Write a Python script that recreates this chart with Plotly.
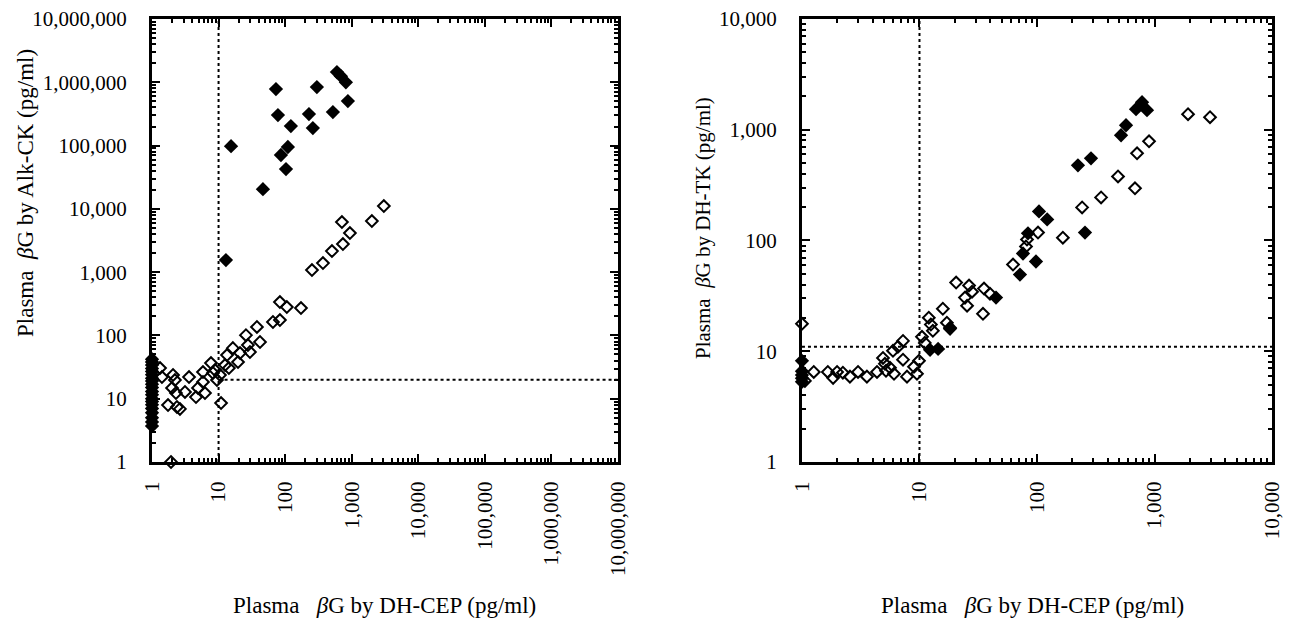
import plotly.graph_objects as go

# ---------------- Left panel: Alk-CK vs DH-CEP ----------------
left_filled_x = [72.8, 300, 600, 689, 818, 877, 78, 228, 522, 122, 261, 15.4, 110, 86.5, 103, 46.4, 12.9,
                 1, 1, 1, 1, 1, 1, 1, 1, 1, 1, 1, 1, 1, 1, 1, 1, 1, 1, 1, 1]
left_filled_y = [781000, 840000, 1450000, 1250000, 1000000, 505000, 303000, 315000, 338000, 203000, 189000,
                 98000, 95000, 71000, 42500, 20500, 1550,
                 42, 38, 34, 30, 27, 24, 21, 19, 17, 15, 13, 11.5, 10, 9, 8, 7, 6, 5, 4.3, 3.7]

left_open_x = [1.32, 1.41, 1.74, 2.07, 2.21, 2.0, 2.29, 2.63, 2.37, 3.13, 3.6, 4.58, 4.91, 5.83, 5.83, 6.25,
               7.69, 8.24, 8.83, 9.46, 10.5, 10.9, 12.5, 13.4, 14.3, 16.4, 19.6, 21, 25.8, 27.6, 29.6, 37.7,
               41.9, 65.6, 83.5, 83.5, 106, 173, 253, 370, 505, 738, 713, 940, 2010, 3040, 1.93]
left_open_y = [30.5, 22, 7.95, 23.7, 19.7, 14.8, 12.3, 6.9, 7.4, 12.8, 22, 10.6, 14.8, 26.4, 18.4, 12.3,
               36.6, 25.5, 28.4, 19.7, 23.7, 8.55, 34, 49, 30.5, 63, 38, 52.7, 101, 70.5, 54.7, 136,
               78.7, 163, 175, 337, 281, 271, 1080, 1390, 2150, 2780, 6190, 4150, 6420, 11070, 1]

left_cut_x = 10
left_cut_y = 20

# ---------------- Right panel: DH-TK vs DH-CEP ----------------
right_filled_x = [783, 696, 863, 572, 519, 288, 223, 256, 104, 122, 83.8, 76, 98, 71.6, 44.8, 18.2, 12.3, 14.4,
                  1, 1, 1, 1, 1]
right_filled_y = [1774, 1534, 1501, 1098, 892, 552, 477, 118, 183, 155, 116, 76.3, 64.6, 49.2, 30.5, 16.3, 10.3, 10.5,
                  8.2, 6.6, 6.1, 5.7, 5.3]

right_open_x = [1, 1.06, 1.26, 1.66, 1.84, 1.99, 2.23, 2.56, 3.0, 3.57, 4.35, 4.89, 5.08, 5.19, 5.61, 6.07,
                5.95, 6.56, 7.24, 7.24, 7.83, 8.98, 9.52, 9.9, 10.5, 11.1, 12.0, 12.5, 13.0, 15.8, 17.1,
                18.2, 20.5, 24.4, 25.4, 26.4, 28, 35.4, 39.8, 34.7, 62.5, 80.6, 82.2, 102, 166, 242, 351,
                489, 682, 710, 898, 1928, 2966]
right_open_y = [17.7, 5.4, 6.5, 6.5, 5.75, 6.5, 6.4, 5.9, 6.5, 5.9, 6.5, 8.7, 7.7, 6.66, 7.1, 6.26,
                10.1, 11, 12.4, 8.4, 5.9, 7.24, 6.26, 8.2, 13.5, 11.9, 20.1, 17.4, 15.3, 24.2, 18.1,
                16, 41.7, 30.5, 25.8, 39.2, 34.5, 36.8, 33.1, 21.8, 60.7, 88.3, 102, 118, 106, 199, 245,
                379, 296, 613, 787, 1381, 1298]

right_cut_x = 10
right_cut_y = 11

left_ticks = [1, 10, 100, 1000, 10000, 100000, 1000000, 10000000]
left_ticktext = ["1", "10", "100", "1,000", "10,000", "100,000", "1,000,000", "10,000,000"]
right_ticks = [1, 10, 100, 1000, 10000]
right_ticktext = ["1", "10", "100", "1,000", "10,000"]

FONT = "Liberation Serif"
fig = go.Figure()

def add_points(xs, ys, filled, xa, ya):
    fig.add_trace(go.Scatter(
        x=xs, y=ys, mode="markers", xaxis=xa, yaxis=ya, cliponaxis=False, showlegend=False,
        marker=dict(symbol="diamond" if filled else "diamond-open",
                    size=11 if filled else 9, color="black",
                    line=dict(color="black", width=0 if filled else 2))))

def add_cut(xs, ys, xa, ya):
    fig.add_trace(go.Scatter(x=xs, y=ys, mode="lines", xaxis=xa, yaxis=ya, showlegend=False,
                             line=dict(color="black", width=2, dash="dot"), hoverinfo="skip"))

# dotted cut-off lines
add_cut([left_cut_x, left_cut_x], [left_ticks[0], left_ticks[-1]], "x", "y")
add_cut([left_cut_x, left_ticks[-1]], [left_cut_y, left_cut_y], "x", "y")
add_cut([right_cut_x, right_cut_x], [right_ticks[0], right_ticks[-1]], "x2", "y2")
add_cut([right_ticks[0], right_ticks[-1]], [right_cut_y, right_cut_y], "x2", "y2")

add_points(left_open_x, left_open_y, False, "x", "y")
add_points(left_filled_x, left_filled_y, True, "x", "y")
add_points(right_open_x, right_open_y, False, "x2", "y2")
add_points(right_filled_x, right_filled_y, True, "x2", "y2")

def minor_vals(decades):
    return [m * 10 ** d for d in range(decades) for m in range(2, 10)]

def axis(tickvals, ticktext, decades, domain, anchor, angle, standoff):
    return dict(type="log", range=[0, decades], domain=domain, anchor=anchor, automargin=False,
                tickvals=tickvals, ticktext=ticktext, tickangle=angle,
                ticks="inside", ticklen=8, tickwidth=2, tickcolor="black",
                minor=dict(tickvals=minor_vals(decades), ticks="inside", ticklen=4, tickwidth=1.5,
                           tickcolor="black", showgrid=False),
                showline=True, linecolor="black", linewidth=3, mirror="allticks",
                showgrid=False, zeroline=False, ticklabelstandoff=standoff,
                tickfont=dict(family=FONT, size=21, color="black"))

fig.update_layout(
    width=1295, height=622, paper_bgcolor="white", plot_bgcolor="white",
    margin=dict(l=0, r=0, t=0, b=0),
    xaxis=axis(left_ticks, left_ticktext, 7, [0.1112, 0.4710], "y", -90, 8),
    yaxis=axis(left_ticks, left_ticktext, 7, [0.2701, 0.9823], "x", 0, 18),
    xaxis2=axis(right_ticks, right_ticktext, 4, [0.6131, 0.9761], "y2", -90, 8),
    yaxis2=axis(right_ticks, right_ticktext, 4, [0.2701, 0.9823], "x2", 0, 18),
)

title_font = dict(family=FONT, size=23, color="black")
common = dict(xref="paper", yref="paper", showarrow=False, xanchor="center", yanchor="middle")
fig.add_annotation(text="Plasma&nbsp;&nbsp;<i>β</i>G by Alk-CK (pg/ml)", x=0.0131, y=0.7025, textangle=-90,
                   font=title_font, **common)
fig.add_annotation(text="Plasma&nbsp;&nbsp;<i>β</i>G by DH-TK (pg/ml)", x=0.5367, y=0.6463, textangle=-90,
                   font=dict(family=FONT, size=21, color="black"), **common)
fig.add_annotation(text="Plasma&nbsp;&nbsp;&nbsp;<i>β</i>G by DH-CEP (pg/ml)", x=0.2911, y=0.0386,
                   font=title_font, **common)
fig.add_annotation(text="Plasma&nbsp;&nbsp;&nbsp;<i>β</i>G by DH-CEP (pg/ml)", x=0.7915, y=0.0386,
                   font=title_font, **common)

fig.write_html("out.html")
